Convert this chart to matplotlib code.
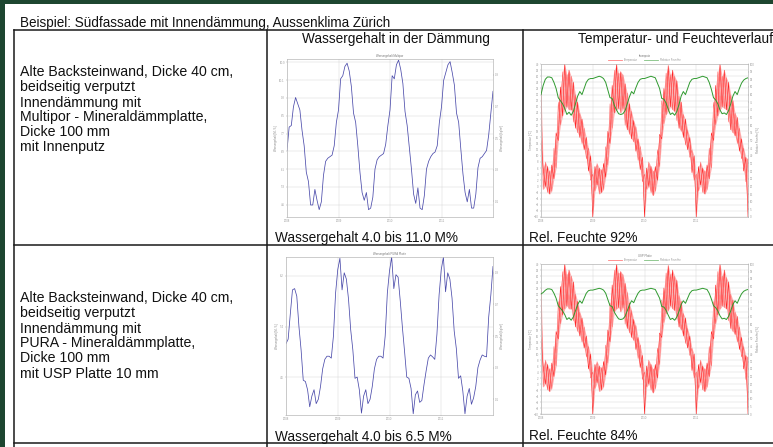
import numpy as np
import matplotlib
matplotlib.use("Agg")
import matplotlib.pyplot as plt
from matplotlib.lines import Line2D
from matplotlib.patches import Rectangle

plt.rcParams["font.family"] = ["Liberation Sans", "DejaVu Sans"]

W, H = 773, 447

TITLE = "Beispiel: Südfassade mit Innendämmung, Aussenklima Zürich"
HEADERS = ["Wassergehalt in der Dämmung", "Temperatur- und Feuchteverlauf"]
ROW_TEXT = [
    ["Alte Backsteinwand, Dicke 40 cm,", "beidseitig verputzt", "Innendämmung mit",
     "Multipor - Mineraldämmplatte,", "Dicke 100 mm", "mit Innenputz"],
    ["Alte Backsteinwand, Dicke 40 cm,", "beidseitig verputzt", "Innendämmung mit",
     "PURA - Mineraldämmplatte,", "Dicke 100 mm", "mit USP Platte 10 mm"],
]
WATER_LABELS = ["Wassergehalt 4.0 bis 11.0 M%", "Wassergehalt 4.0 bis 6.5 M%"]
RH_LABELS = ["Rel. Feuchte 92%", "Rel. Feuchte 84%"]
YEAR_TICKS = ["2008", "2009", "2010", "2011"]

# time axis in months, 4 simulated years
months = np.arange(0, 48.5, 0.5)

# water content of the insulation layer [M%]
water_multipor = [
    6.94, 7.99, 8.06, 8.90, 9.32, 9.04, 8.76, 7.85, 7.15, 5.96, 5.54, 4.49,
    4.49, 5.19, 4.70, 4.28, 4.63, 5.82, 6.45, 6.59, 6.66, 6.73, 7.15, 8.20,
    8.76, 10.16, 10.30, 10.72, 10.86, 10.51, 9.81, 8.62, 8.20, 7.15, 5.96, 5.05,
    4.70, 5.05, 4.28, 4.35, 4.84, 6.10, 6.52, 6.66, 6.73, 6.80, 7.22, 8.06,
    8.76, 10.30, 10.16, 10.79, 11.00, 10.58, 9.95, 8.69, 8.06, 7.08, 6.10, 4.98,
    4.56, 5.26, 4.35, 4.28, 4.91, 6.10, 6.45, 6.66, 6.80, 6.87, 7.15, 8.20,
    8.90, 10.09, 10.44, 10.79, 10.93, 10.44, 9.88, 8.62, 8.20, 7.01, 5.89, 5.05,
    4.63, 5.19, 4.35, 4.35, 4.98, 6.17, 6.59, 6.66, 6.80, 6.94, 7.64, 8.62,
    9.60,
]
water_pura = [
    5.13, 5.20, 5.60, 5.98, 6.00, 5.88, 5.40, 5.03, 4.55, 4.53, 4.40, 4.13,
    4.30, 4.40, 4.18, 4.25, 4.45, 4.73, 4.88, 4.93, 4.93, 4.90, 5.25, 5.93,
    6.30, 6.48, 5.98, 6.25, 6.15, 5.83, 5.35, 5.03, 4.58, 4.60, 4.40, 4.03,
    4.30, 4.40, 4.18, 4.25, 4.45, 4.73, 4.88, 4.93, 4.93, 4.90, 5.25, 5.93,
    6.28, 6.50, 6.00, 6.22, 6.18, 5.80, 5.38, 5.00, 4.60, 4.58, 4.42, 4.02,
    4.32, 4.38, 4.20, 4.23, 4.48, 4.70, 4.90, 4.95, 4.92, 4.88, 5.28, 5.90,
    6.30, 6.50, 5.95, 6.25, 6.15, 5.85, 5.33, 5.05, 4.58, 4.62, 4.38, 4.02,
    4.30, 4.42, 4.17, 4.27, 4.45, 4.75, 4.87, 4.95, 4.93, 4.92, 5.55, 5.90,
    6.35,
]

# temperature band (daily min / max) [°C]
temp_lo = [
    15, -1, 0, -2, -2.5, -1.5, 2.5, 6, 15, 20, 23, 25,
    26, 25, 25, 21, 19, 17.5, 16, 14, 12, 9, 5, 2,
    -10, -1.5, 0.5, -2.5, -2, -1, 3, 7, 14, 19, 24, 25,
    25.5, 24, 25.5, 20, 18.5, 17, 15.5, 14.5, 11.5, 8.5, 5.5, 1.5,
    -10, -1, 0, -2, -3, -1.5, 2, 6.5, 15.5, 20.5, 23.5, 24.5,
    26, 25, 24.5, 21.5, 19, 18, 16, 13.5, 12, 9.5, 4.5, 2,
    -10, -1.5, 0.5, -2, -2.5, -1, 2.5, 6, 15, 20, 23, 25,
    26, 25.5, 25, 21, 18.5, 17.5, 16.5, 14, 11.5, 9, 5, 1.5,
    -10,
]
temp_hi = [
    32, 6, 8, 6.5, 5, 7, 12.5, 17.5, 27.5, 32.5, 37.5, 40,
    36.5, 38, 36, 34, 30, 27.5, 24, 22, 19, 16, 12.5, 10,
    4, 6.5, 7.5, 6, 5.5, 7.5, 13, 18, 27, 33, 38, 40,
    37, 37.5, 36.5, 33.5, 30.5, 27, 24.5, 21.5, 19.5, 15.5, 13, 9.5,
    4, 6, 8, 6.5, 5, 6.5, 12, 17, 28, 32, 37, 39.5,
    36.5, 38, 36, 34.5, 29.5, 27.5, 23.5, 22, 18.5, 16, 12, 10,
    4, 6.5, 8, 6, 5, 7, 12.5, 17.5, 27.5, 33, 37.5, 40,
    36, 38, 35.5, 34, 30, 28, 24, 22.5, 19, 15.5, 12.5, 9.5,
    9,
]

# relative humidity [%]
rh_multipor = [
    80, 86, 90, 91.5, 91.5, 91, 88, 84, 78, 76, 74, 71,
    67, 68.5, 66.5, 69, 74, 79, 82, 80, 84, 88, 90, 90.5,
    90.5, 91, 91.5, 92, 91.5, 90.5, 88, 83, 78, 77.5, 73, 70,
    67.5, 67, 67.5, 69.5, 74, 78.5, 82, 80.5, 84.5, 88, 90, 90.5,
    90.5, 91, 91.5, 92, 91.5, 91, 87.5, 84, 77.5, 77, 74.5, 70.5,
    67, 68, 66.5, 69, 73.5, 79, 82, 80, 84, 88, 90, 90.5,
    90.5, 91, 91.5, 92, 91.5, 91, 88, 83.5, 78, 76.5, 74, 70,
    67.5, 68, 67, 69.5, 74, 79, 82, 80, 84, 87.5, 89.5, 90.5,
    91,
]
rh_pura = [
    80, 81, 82.5, 83.4, 83.4, 83, 80.5, 77.2, 72.2, 70.5, 68.8, 66.3,
    63, 64.2, 62.5, 64.7, 68.8, 73, 75.5, 73.8, 77.2, 80.5, 82.2, 82.6,
    82.6, 83, 83.4, 83.8, 83.4, 82.6, 80.5, 76.3, 72.2, 71.7, 67.9, 65.5,
    63.4, 63, 63.4, 65.1, 68.8, 72.6, 75.5, 74.2, 77.6, 80.5, 82.2, 82.6,
    82.6, 83, 83.4, 83.8, 83.4, 83, 80.1, 77.2, 71.7, 71.3, 69.2, 65.9,
    63, 63.8, 62.5, 64.7, 68.4, 73, 75.5, 73.8, 77.2, 80.5, 82.2, 82.6,
    82.6, 83, 83.4, 83.8, 83.4, 83, 80.5, 76.7, 72.2, 70.9, 68.8, 65.5,
    63.4, 63.8, 63, 65.1, 68.8, 73, 75.5, 73.8, 77.2, 80.1, 81.8, 82.6,
    83,
]

BG = "#1d4630"
LINE = "#1a1a1a"
BLUE = "#4a4aaa"
RED = "#ff2020"
GREEN = "#2f9a2f"
TXT = dict(color="#111111", va="baseline")


def fx(x):
    return x / W


def fy(y):
    return 1 - y / H


def add_axes(left, top, right, bottom):
    return fig.add_axes([fx(left), fy(bottom), (right - left) / W, (bottom - top) / H])


def style(ax):
    for s in ax.spines.values():
        s.set_color("#b8b8b8")
        s.set_linewidth(0.5)
    ax.tick_params(labelsize=2, length=1, width=0.3, colors="#9a9a9a", pad=0.6)
    ax.set_xlim(0, 48)
    ax.set_xticks([0, 12, 24, 36])
    ax.set_xticklabels(YEAR_TICKS)
    ax.grid(True, color="#d6d6d6", lw=0.35)


def water_chart(rect, values, ylim, yticks, title):
    ax = add_axes(*rect)
    style(ax)
    ax.plot(months, values, color=BLUE, lw=0.55)
    ax.set_ylim(*ylim)
    ax.set_yticks(yticks)
    ax.set_ylabel("Wassergehalt [M.-%]", fontsize=2, labelpad=0.8, color="#888")
    ax.set_title(title, fontsize=2, pad=1.2, color="#777")
    ax2 = ax.twinx()
    ax2.set_ylim(0, 1)
    ax2.set_yticks([0.1, 0.3, 0.5, 0.7, 0.9])
    ax2.tick_params(labelsize=2, length=1, width=0.3, colors="#9a9a9a", pad=0.6)
    ax2.set_ylabel("Wassergehalt [kg/m³]", fontsize=2, labelpad=0.8, color="#888")
    for s in ax2.spines.values():
        s.set_visible(False)
    return ax


def climate_chart(rect, rh, title):
    ax = add_axes(*rect)
    style(ax)
    # daily swing: light band with a zigzag between the daily min and max
    zigzag = [temp_lo[i] if i % 2 == 0 else temp_hi[i] for i in range(len(months))]
    zagzig = [temp_hi[i] if i % 2 == 0 else temp_lo[i] for i in range(len(months))]
    ax.fill_between(months, temp_lo, temp_hi, color="#ffb0b0", lw=0)
    ax.plot(months, zigzag, color=RED, lw=0.4)
    ax.plot(months, zagzig, color="#ff5050", lw=0.3)
    ax.set_ylim(-10, 40)
    ax.set_yticks(np.arange(-10, 41, 2))
    ax.set_ylabel("Temperatur [°C]", fontsize=2, labelpad=0.8, color="#888")
    ax2 = ax.twinx()
    ax2.plot(months, rh, color=GREEN, lw=0.7)
    ax2.set_ylim(0, 100)
    ax2.set_yticks(np.arange(0, 101, 5))
    ax2.tick_params(labelsize=2, length=1, width=0.3, colors="#9a9a9a", pad=0.6)
    ax2.set_ylabel("Relative Feuchte [%]", fontsize=2, labelpad=0.8, color="#888")
    for s in ax2.spines.values():
        s.set_visible(False)
    handles = [Line2D([], [], color="#ff8080", lw=0.6), Line2D([], [], color="#80c080", lw=0.6)]
    ax.legend(handles, ["Temperatur", "Relative Feuchte"], loc="lower center",
              bbox_to_anchor=(0.5, 1.0), ncol=2, fontsize=2, frameon=False,
              handlelength=5, columnspacing=2, borderpad=0.2, labelcolor="#999")
    ax.set_title(title, fontsize=2, pad=5, color="#777")
    return ax


fig = plt.figure(figsize=(W / 100, H / 100), dpi=100)
fig.patch.set_facecolor(BG)

# white document page
fig.add_artist(Rectangle((fx(5), 0), 1 - fx(5), fy(4), transform=fig.transFigure,
                         facecolor="white", edgecolor="none", zorder=0))

# table grid
rules = [
    ([14, W], [30, 30]), ([14, W], [245, 245]), ([14, W], [443, 443]),
    ([14, 14], [30, H]), ([267, 267], [30, H]), ([523, 523], [30, H]),
]
for xs, ys in rules:
    fig.add_artist(Line2D([fx(v) for v in xs], [fy(v) for v in ys],
                          transform=fig.transFigure, color=LINE, lw=1.1, zorder=5))

fig.text(fx(20), fy(27), TITLE, fontsize=9.75, **TXT)
fig.text(fx(396), fy(43), HEADERS[0], fontsize=9.8, ha="center", **TXT)
fig.text(fx(578), fy(43), HEADERS[1], fontsize=9.8, ha="left", **TXT)

for r, base in enumerate([76.5, 302.5]):
    for i, line in enumerate(ROW_TEXT[r]):
        fig.text(fx(20), fy(base + 15 * i), line, fontsize=10.2, **TXT)

for r, base in enumerate([242, 440.5]):
    fig.text(fx(275), fy(base), WATER_LABELS[r], fontsize=9.8, **TXT)
    fig.text(fx(529), fy(base), RH_LABELS[r], fontsize=9.8, **TXT)

water_chart((287, 59, 493, 217), water_multipor, (3.95, 11.05),
            [4.5, 5.3, 6.1, 6.9, 7.7, 8.5, 9.3, 10.1, 10.9], "Wassergehalt Multipor")
water_chart((286, 257, 493, 415), water_pura, (4.0, 6.5),
            [4.6, 5.4, 6.2], "Wassergehalt PURA Platte")
climate_chart((541, 64, 748, 217), rh_multipor, "Innenputz")
climate_chart((541, 264, 748, 414), rh_pura, "USP Platte")

fig.savefig("out.png", dpi=100, facecolor=BG)
